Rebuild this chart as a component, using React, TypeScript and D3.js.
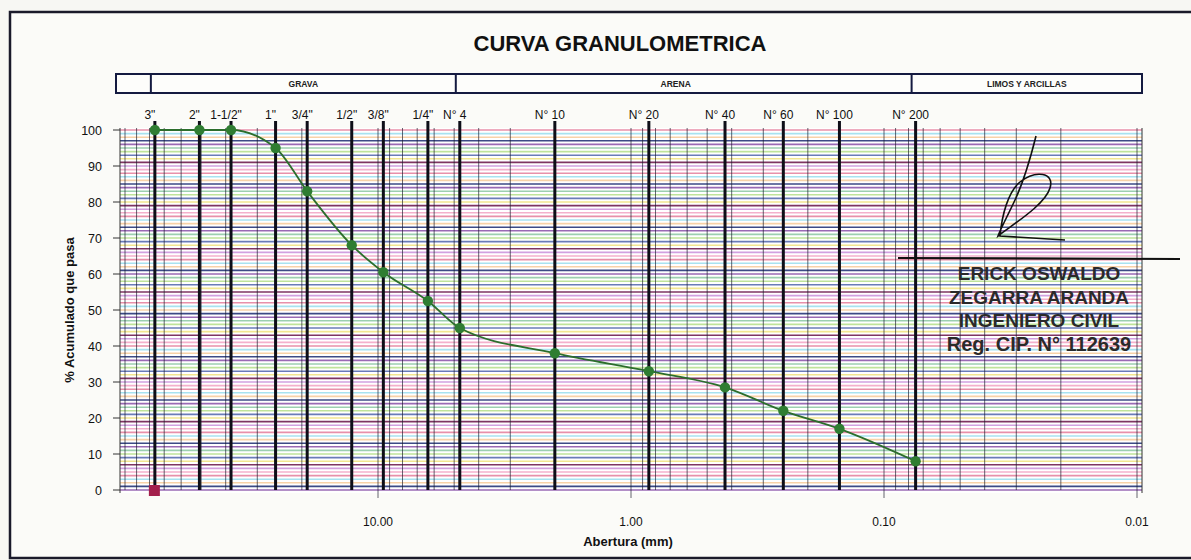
import React from "react";
import * as d3 from "d3";

const sieveLabels = ['3"', '2"', '1-1/2"', '1"', '3/4"', '1/2"', '3/8"', '1/4"', 'N° 4', 'N° 10', 'N° 20', 'N° 40', 'N° 60', 'N° 100', 'N° 200'];
const sieveSizes = [76.2, 50.8, 38.1, 25.4, 19.05, 12.7, 9.525, 6.35, 4.75, 2.0, 0.85, 0.425, 0.25, 0.15, 0.075];
const percentPassing = [100, 100, 100, 95, 83, 68, 60.5, 52.5, 45, 38, 33, 28.5, 22, 17, 8];

const bandNames = ["GRAVA", "ARENA", "LIMOS Y ARCILLAS"];
const bandLimits = [76.2, 4.75, 0.075, 0.01];

const xTickValues = [10, 1, 0.1, 0.01];
const yTickValues = [0, 10, 20, 30, 40, 50, 60, 70, 80, 90, 100];

const signatureLines = ["ERICK OSWALDO", "ZEGARRA ARANDA", "INGENIERO CIVIL", "Reg. CIP. N° 112639"];

const gridPalette = ["#9a6ab4", "#f4b0cc", "#bfe39a", "#a8e2f0", "#f2e690", "#3c4a86", "#d2a0e0", "#9ccfb0", "#e890aa", "#6a7cb8", "#f8d2a8", "#7e3462"];

const W = 1191, H = 560;
const plotLeft = 120, plotRight = 1142, plotTop = 128, plotBottom = 493;

export default function App() {
  const x = d3.scaleLog().domain([100, 0.01]).range([125, 1137]);
  const y = d3.scaleLinear().domain([0, 100]).range([490, 130]);

  const minor: number[] = [];
  for (let e = -2; e <= 1; e++) {
    for (let m = 1; m <= 9; m++) minor.push(m * Math.pow(10, e));
  }
  minor.push(100);

  const hLines = d3.range(0, 101, 1);

  const pts = sieveSizes.map((s, i) => [x(s), y(percentPassing[i])] as [number, number]);
  const line = d3.line().curve(d3.curveMonotoneX)(pts) || "";

  const font = "Arial, 'Liberation Sans', sans-serif";

  return (
    <svg width={W} height={H} style={{ position: "absolute", left: 0, top: 0 }} fontFamily={font}>
      <rect x={0} y={0} width={W} height={H} fill="#f7f7f3" />
      <rect x={10} y={12} width={1195} height={546} fill="#fbfbf8" stroke="#1a1a2a" strokeWidth={2.5} />

      <text x={620} y={51} textAnchor="middle" fontSize={22} fontWeight="bold" fill="#111">CURVA GRANULOMETRICA</text>

      <rect x={116} y={74} width={1026} height={19} fill="#fdfdfb" stroke="#141a40" strokeWidth={2} />
      {bandLimits.slice(0, 3).map((b, i) => (
        <line key={"bd" + i} x1={x(b) - 4} x2={x(b) - 4} y1={74} y2={93} stroke="#141a40" strokeWidth={2} />
      ))}
      {bandNames.map((n, i) => {
        const x0 = x(bandLimits[i]) - 4;
        const x1 = i === 2 ? 1142 : x(bandLimits[i + 1]) - 4;
        return (
          <text key={"bn" + i} x={(x0 + x1) / 2 - (i === 1 ? 8 : 0)} y={87} textAnchor="middle" fontSize={8.5} fontWeight="bold" fill="#222">{n}</text>
        );
      })}

      <rect x={plotLeft} y={plotTop} width={plotRight - plotLeft} height={plotBottom - plotTop} fill="#ffffff" />

      {hLines.map((v, i) => (
        <line key={"h" + v} x1={plotLeft} x2={plotRight} y1={y(v)} y2={y(v)} stroke={gridPalette[(i * 5) % gridPalette.length]} strokeWidth={1.6} />
      ))}
      {yTickValues.map((v) => (
        <line key={"yt" + v} x1={113} x2={plotLeft} y1={y(v)} y2={y(v)} stroke="#333" strokeWidth={1} />
      ))}

      {minor.map((m, i) => (
        <line key={"v" + i} x1={x(m)} x2={x(m)} y1={plotTop} y2={xTickValues.includes(+m.toPrecision(3)) ? 498 : 490} stroke="#1c1c2c" strokeWidth={0.9} opacity={0.75} />
      ))}
      <line x1={plotRight} x2={plotRight} y1={plotTop} y2={plotBottom} stroke="#333" strokeWidth={1} />
      <line x1={plotLeft} x2={plotLeft} y1={plotTop} y2={plotBottom} stroke="#333" strokeWidth={1} />

      {sieveSizes.map((s, i) => (
        <line key={"s" + i} x1={x(s)} x2={x(s)} y1={121} y2={490} stroke="#0e0e18" strokeWidth={3} />
      ))}
      {sieveLabels.map((l, i) => (
        <text key={"sl" + i} x={x(sieveSizes[i]) - 5} y={119} textAnchor="middle" fontSize={12} fill="#111">{l}</text>
      ))}

      {yTickValues.map((v) => (
        <text key={"yl" + v} x={102} y={y(v) + 4.5} textAnchor="end" fontSize={12.5} fill="#111">{v}</text>
      ))}
      <text transform={`translate(74,310) rotate(-90)`} textAnchor="middle" fontSize={13} fontWeight="bold" fill="#111">% Acumulado que pasa</text>

      {xTickValues.map((v) => (
        <text key={"xl" + v} x={x(v)} y={526} textAnchor="middle" fontSize={12} fill="#111">{d3.format(".2f")(v)}</text>
      ))}
      <text x={628} y={546} textAnchor="middle" fontSize={13} fontWeight="bold" fill="#111">Abertura (mm)</text>

      <path d={line} fill="none" stroke="#2c6e2c" strokeWidth={1.8} />
      {pts.map((p, i) => (
        <circle key={"c" + i} cx={p[0]} cy={p[1]} r={5.2} fill="#2f7d32" />
      ))}
      <rect x={x(sieveSizes[0]) - 6} y={y(0) - 5} width={11} height={11} fill="#a3204c" />

      <path d="M1036,136 C1030,160 1022,185 1015,200 C1008,215 1000,230 998,236 C1012,225 1045,205 1050,188 C1055,172 1035,170 1020,182 C1008,192 1002,215 1000,236 L1065,240"
        fill="none" stroke="#111" strokeWidth={1.6} />
      <line x1={898} x2={1180} y1={258} y2={259} stroke="#111" strokeWidth={2.2} />
      {signatureLines.map((t, i) => (
        <text key={"sg" + i} x={1039} y={280 + i * 23.5} textAnchor="middle" fontSize={i === 3 ? 20 : 19} fontWeight="bold" fill="#2a2a2a">{t}</text>
      ))}
    </svg>
  );
}
